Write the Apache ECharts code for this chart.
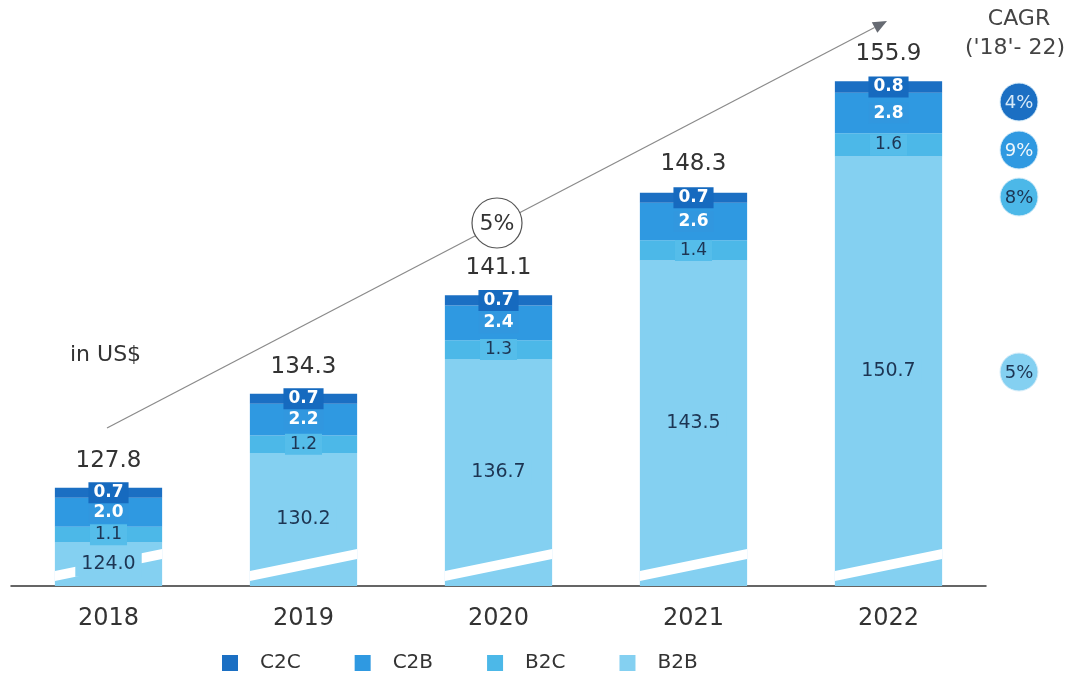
<!DOCTYPE html>
<html>
<head>
<meta charset="utf-8">
<title>Market size by segment</title>
<script src="https://cdn.jsdelivr.net/npm/echarts@6.0.0/dist/echarts.min.js"></script>
<style>
  html, body { margin: 0; padding: 0; background: #ffffff; }
  #chart { width: 1072px; height: 675px; }
</style>
</head>
<body>
<div id="chart"></div>
<script>
// data
const years = ['2018', '2019', '2020', '2021', '2022'];
const b2b = [124.0, 130.2, 136.7, 143.5, 150.7];
const b2c = [1.1, 1.2, 1.3, 1.4, 1.6];
const c2b = [2.0, 2.2, 2.4, 2.6, 2.8];
const c2c = [0.7, 0.7, 0.7, 0.7, 0.8];
const totals = [127.8, 134.3, 141.1, 148.3, 155.9];
const segmentNames = ['C2C', 'C2B', 'B2C', 'B2B'];
const segmentCagr = ['4%', '9%', '8%', '5%'];
const totalCagr = '5%';

// styling
const FONT = 'DejaVu Sans';
const Y_MIN = 121;
const Y_MAX = 160;
const colors = { C2C: '#1b6fc3', C2B: '#2f99e1', B2C: '#4cb8e8', B2B: '#84d0f1' };
const labelBoxes = { C2C: '#166abf', C2B: '#3197df', B2C: '#55bdea', B2B: '#84d0f1' };
const darkText = '#1d3553';

const chart = echarts.init(document.getElementById('chart'));

const segLabel = (name, light) => ({
  show: true,
  position: 'inside',
  formatter: p => p.value.toFixed(1),
  color: light ? '#ffffff' : darkText,
  fontFamily: FONT,
  fontSize: 17,
  fontWeight: light ? 'bold' : 'normal',
  backgroundColor: labelBoxes[name],
  padding: [2, 5]
});

const barSeries = (name, data, label) => ({
  name: name,
  type: 'bar',
  stack: 'total',
  barWidth: '55%',
  data: data,
  itemStyle: { color: colors[name] },
  label: label || { show: false },
  emphasis: { disabled: true }
});

// break band, B2B value and total drawn on top of each bar
function renderOverlay(params, api) {
  const i = api.value(0);
  const base = api.coord([i, Y_MIN]);
  const bw = api.size([1, 0])[0] * 0.55;
  const x0 = base[0] - bw / 2;
  const x1 = base[0] + bw / 2;
  const y0 = base[1];
  const mid = api.coord([i, (Y_MIN + api.value(1)) / 2]);
  const top = api.coord([i, api.value(2)]);
  return {
    type: 'group',
    children: [
      {
        type: 'polygon',
        shape: { points: [[x0, y0 - 15], [x1, y0 - 37], [x1, y0 - 27], [x0, y0 - 5]] },
        style: { fill: '#ffffff' }
      },
      {
        type: 'text',
        x: mid[0],
        y: mid[1],
        style: {
          text: api.value(1).toFixed(1),
          fontFamily: FONT,
          fontSize: 19,
          fill: darkText,
          align: 'center',
          verticalAlign: 'middle',
          backgroundColor: labelBoxes.B2B,
          padding: [3, 6]
        }
      },
      {
        type: 'text',
        x: top[0],
        y: top[1] - 27,
        style: {
          text: api.value(2).toFixed(1),
          fontFamily: FONT,
          fontSize: 23,
          fill: '#333333',
          align: 'center',
          verticalAlign: 'middle'
        }
      }
    ]
  };
}

// trend arrow
const arrowStart = [107, 428];
const arrowTip = [887, 21];
const ang = Math.atan2(arrowTip[1] - arrowStart[1], arrowTip[0] - arrowStart[0]);
const headLen = 14, headHalf = 6;
const headBase = [arrowTip[0] - headLen * Math.cos(ang), arrowTip[1] - headLen * Math.sin(ang)];
const headPts = [
  arrowTip,
  [headBase[0] + headHalf * Math.sin(ang), headBase[1] - headHalf * Math.cos(ang)],
  [headBase[0] - headHalf * Math.sin(ang), headBase[1] + headHalf * Math.cos(ang)]
];

const cagrY = [102, 150, 197, 372];
const cagrTextColors = ['#d6e9f8', '#eef7fd', darkText, darkText];

const graphics = [
  {
    type: 'line',
    shape: { x1: arrowStart[0], y1: arrowStart[1], x2: headBase[0], y2: headBase[1] },
    style: { stroke: '#8a8a8a', lineWidth: 1.2 }
  },
  { type: 'polygon', shape: { points: headPts }, style: { fill: '#666a72' } },
  {
    type: 'circle',
    shape: { cx: 497, cy: 223, r: 25 },
    style: { fill: '#ffffff', stroke: '#555555', lineWidth: 1.2 }
  },
  {
    type: 'text', x: 497, y: 224,
    style: { text: totalCagr, fontFamily: FONT, fontSize: 22, fill: '#333333', align: 'center', verticalAlign: 'middle' }
  },
  {
    type: 'text', x: 70, y: 355,
    style: { text: 'in US$', fontFamily: FONT, fontSize: 22, fill: '#333333', align: 'left', verticalAlign: 'middle' }
  },
  {
    type: 'text', x: 1019, y: 19,
    style: { text: 'CAGR', fontFamily: FONT, fontSize: 22, fill: '#444444', align: 'center', verticalAlign: 'middle' }
  },
  {
    type: 'text', x: 1015, y: 48,
    style: { text: "('18'- 22)", fontFamily: FONT, fontSize: 22, fill: '#444444', align: 'center', verticalAlign: 'middle' }
  }
];

segmentNames.forEach((name, k) => {
  graphics.push({
    type: 'circle',
    shape: { cx: 1019, cy: cagrY[k], r: 19 },
    style: { fill: colors[name], stroke: '#d9eefa', lineWidth: 1 }
  });
  graphics.push({
    type: 'text', x: 1019, y: cagrY[k] + 1,
    style: { text: segmentCagr[k], fontFamily: FONT, fontSize: 18, fill: cagrTextColors[k], align: 'center', verticalAlign: 'middle' }
  });
});

const option = {
  backgroundColor: '#ffffff',
  animation: false,
  grid: { left: 11, right: 86, top: 22, bottom: 89, outerBoundsMode: 'none' },
  legend: {
    data: segmentNames,
    left: 217,
    top: 648,
    icon: 'rect',
    itemWidth: 16,
    itemHeight: 16,
    itemGap: 54,
    textStyle: { fontFamily: FONT, fontSize: 20, color: '#333333', padding: [0, 0, 0, 17] }
  },
  xAxis: {
    type: 'category',
    data: years,
    axisLine: { lineStyle: { color: '#333333', width: 1.5 } },
    axisTick: { show: false },
    axisLabel: { fontFamily: FONT, fontSize: 24, color: '#333333', margin: 21 }
  },
  yAxis: {
    type: 'value',
    min: Y_MIN,
    max: Y_MAX,
    show: false,
    splitLine: { show: false }
  },
  series: [
    barSeries('B2B', b2b),
    barSeries('B2C', b2c, segLabel('B2C', false)),
    barSeries('C2B', c2b, segLabel('C2B', true)),
    barSeries('C2C', c2c, segLabel('C2C', true)),
    {
      type: 'custom',
      renderItem: renderOverlay,
      data: years.map((y, i) => [i, b2b[i], totals[i]]),
      encode: { x: 0, y: 1 },
      z: 5,
      silent: true
    }
  ],
  graphic: graphics
};

chart.setOption(option);
</script>
</body>
</html>
